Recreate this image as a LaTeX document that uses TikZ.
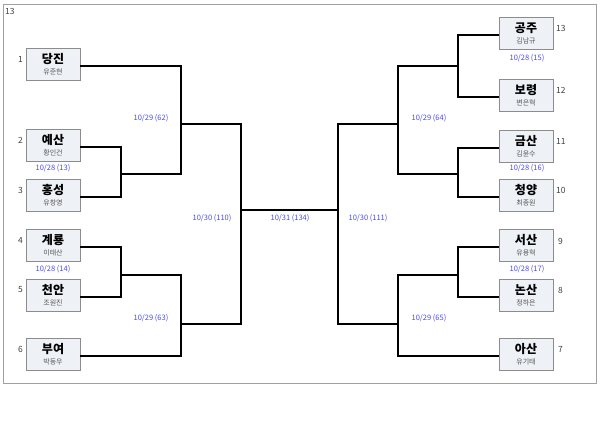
\documentclass[tikz,border=0pt]{standalone}
\usepackage{fontspec}
\setmainfont{Noto Sans CJK KR}
\usetikzlibrary{positioning}
\definecolor{boxfill}{HTML}{EEF1F5}
\definecolor{boxline}{HTML}{8C8C8C}
\definecolor{datecol}{HTML}{4B4BF0}
\definecolor{seedcol}{HTML}{404040}
\definecolor{subcol}{HTML}{555555}
\definecolor{framecol}{HTML}{A0A0A0}
\newcommand{\club}[2]{{\fontsize{12}{14}\selectfont\bfseries #1}\\[-1pt]{\fontsize{7}{8}\selectfont\color{subcol}#2}}
\newcommand{\ydrop}{-2pt}

\begin{document}
\begin{tikzpicture}[
    x=1pt, y=-1pt,
    team/.style={
        rectangle,
        draw=boxline,
        fill=boxfill,
        align=center,
        minimum width=54pt,
        minimum height=32pt,
        inner sep=0pt
    },
    seed/.style={
        font=\fontsize{8.5}{9}\selectfont,
        text=seedcol,
        inner sep=0pt
    },
    date/.style={
        font=\fontsize{7.5}{8}\selectfont,
        text=datecol,
        inner sep=0pt
    },
    bracket/.style={
        line width=1.4pt,
        black
    }
]

    % --- frame ---
    \useasboundingbox (0,0) rectangle (600,427);
    \draw[framecol, line width=0.8pt] (3,4) rectangle (596,383);
    \node[seed, anchor=west] (cnt) at (5,11) {13};

    % --- left half ---
    \node[team] (dangjin)   at (53,64)  {\club{당진}{유준현}};
    \node[team] (yesan)     at (53,145) {\club{예산}{황인건}};
    \node[team] (hongseong) at (53,195) {\club{홍성}{유창영}};
    \node[team] (gyeryong)  at (53,245) {\club{계룡}{이태산}};
    \node[team] (cheonan)   at (53,295) {\club{천안}{조원진}};
    \node[team] (buyeo)     at (53,354) {\club{부여}{박동우}};

    \node[seed, anchor=east] (s1) at (23,59)  {1};
    \node[seed, anchor=east] (s2) at (23,140) {2};
    \node[seed, anchor=east] (s3) at (23,190) {3};
    \node[seed, anchor=east] (s4) at (23,240) {4};
    \node[seed, anchor=east] (s5) at (23,290) {5};
    \node[seed, anchor=east] (s6) at (23,349) {6};

    % --- right half ---
    \node[team] (gongju)   at (526,33)  {\club{공주}{김남규}};
    \node[team] (boryeong) at (526,95)  {\club{보령}{변은혁}};
    \node[team] (geumsan)  at (526,146) {\club{금산}{김윤수}};
    \node[team] (cheongyang) at (526,195) {\club{청양}{최종원}};
    \node[team] (seosan)   at (526,245) {\club{서산}{유용혁}};
    \node[team] (nonsan)   at (526,295) {\club{논산}{정하은}};
    \node[team] (asan)     at (526,354) {\club{아산}{유기태}};

    \node[seed, anchor=west] (s13) at (556,28)  {13};
    \node[seed, anchor=west] (s12) at (556,90)  {12};
    \node[seed, anchor=west] (s11) at (556,141) {11};
    \node[seed, anchor=west] (s10) at (556,190) {10};
    \node[seed, anchor=west] (s9)  at (558,241) {9};
    \node[seed, anchor=west] (s8)  at (558,290) {8};
    \node[seed, anchor=west] (s7)  at (558,349) {7};

    % --- match joints ---
    \coordinate (g13) at (121,174);
    \coordinate (g14) at (121,275);
    \coordinate (g62) at (181,124);
    \coordinate (g63) at (181,324);
    \coordinate (g110) at (241,210);
    \coordinate (g111) at (338,210);
    \coordinate (g64) at (398,124);
    \coordinate (g65) at (398,324);
    \coordinate (g15) at (458,66);
    \coordinate (g16) at (458,174);
    \coordinate (g17) at (458,275);

    % --- left brackets ---
    \draw[bracket] ([yshift=\ydrop]yesan.east) -| (g13) |- ([yshift=\ydrop]hongseong.east);
    \draw[bracket] ([yshift=\ydrop]gyeryong.east) -| (g14) |- ([yshift=\ydrop]cheonan.east);
    \draw[bracket] ([yshift=\ydrop]dangjin.east) -| (g62);
    \draw[bracket] (g13) -| (g62);
    \draw[bracket] (g14) -| (g63);
    \draw[bracket] ([yshift=\ydrop]buyeo.east) -| (g63);
    \draw[bracket] (g62) -| (g110);
    \draw[bracket] (g63) -| (g110);

    % --- final ---
    \draw[bracket] (g110) -- (g111);

    % --- right brackets ---
    \draw[bracket] ([yshift=\ydrop]gongju.west) -| (g15) |- ([yshift=\ydrop]boryeong.west);
    \draw[bracket] ([yshift=\ydrop]geumsan.west) -| (g16) |- ([yshift=\ydrop]cheongyang.west);
    \draw[bracket] ([yshift=\ydrop]seosan.west) -| (g17) |- ([yshift=\ydrop]nonsan.west);
    \draw[bracket] (g15) -| (g64);
    \draw[bracket] (g16) -| (g64);
    \draw[bracket] (g17) -| (g65);
    \draw[bracket] ([yshift=\ydrop]asan.west) -| (g65);
    \draw[bracket] (g64) -| (g111);
    \draw[bracket] (g65) -| (g111);

    % --- dates ---
    \node[date] (d13)  at (53,168)  {10/28 (13)};
    \node[date] (d14)  at (53,269)  {10/28 (14)};
    \node[date] (d62)  at (151,118) {10/29 (62)};
    \node[date] (d63)  at (151,318) {10/29 (63)};
    \node[date] (d110) at (212,218) {10/30 (110)};
    \node[date] (d134) at (290,218) {10/31 (134)};
    \node[date] (d111) at (368,218) {10/30 (111)};
    \node[date] (d64)  at (429,118) {10/29 (64)};
    \node[date] (d65)  at (429,318) {10/29 (65)};
    \node[date] (d15)  at (527,58)  {10/28 (15)};
    \node[date] (d16)  at (527,168) {10/28 (16)};
    \node[date] (d17)  at (527,269) {10/28 (17)};

\end{tikzpicture}
\end{document}
